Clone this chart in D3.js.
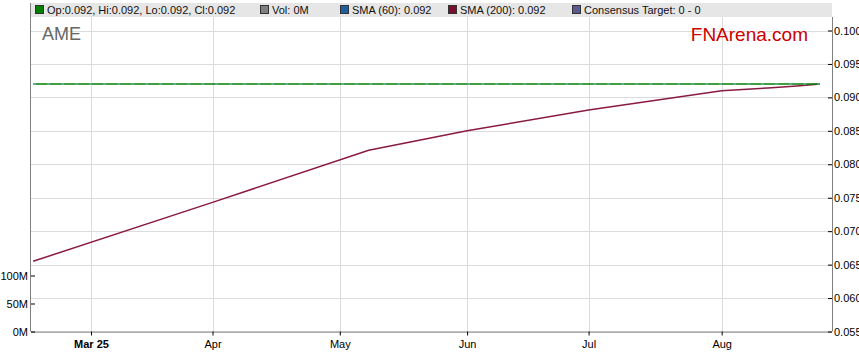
<!DOCTYPE html>
<html><head><meta charset="utf-8">
<script src="https://cdn.jsdelivr.net/npm/d3@7"></script>
<style>
body{margin:0;background:#fff;}
svg{display:block;font-family:"Liberation Sans",Arial,sans-serif;}
</style></head>
<body><svg id="c" width="859" height="363"></svg>
<script>
// ---- data ----
const ticker = "AME";
const closeDates = ["2025-02-17","2025-03-03","2025-04-01","2025-05-01","2025-06-02","2025-07-01","2025-08-01","2025-08-26"];
const closeValues = [0.092,0.092,0.092,0.092,0.092,0.092,0.092,0.092];
const sma60Values = [0.092,0.092,0.092,0.092,0.092,0.092,0.092,0.092];
const sma200Dates = ["2025-02-17","2025-04-01","2025-05-08","2025-06-02","2025-07-01","2025-08-01","2025-08-13","2025-08-20","2025-08-26"];
const sma200Values = [0.0655,0.0743,0.0821,0.0850,0.0881,0.0910,0.0914,0.0917,0.0920];
const volumeValues = [0,0,0,0,0,0,0,0];
const xTickDates = ["2025-03-03","2025-04-01","2025-05-01","2025-06-02","2025-07-01","2025-08-01"];
const xTickLabels = ["Mar 25","Apr","May","Jun","Jul","Aug"];
const priceTicks = [0.055,0.060,0.065,0.070,0.075,0.080,0.085,0.090,0.095,0.100];
const volTicks = [0,50e6,100e6];
const volTickLabels = ["0M","50M","100M"];
const legendItems = [
  {label:"Op:0.092, Hi:0.092, Lo:0.092, Cl:0.092", color:"#008000"},
  {label:"Vol: 0M", color:"#808080"},
  {label:"SMA (60): 0.092", color:"#1f5f9f"},
  {label:"SMA (200): 0.092", color:"#7a1030"},
  {label:"Consensus Target: 0 - 0", color:"#5a5a90"}
];

// ---- helpers: trading-day (weekday) index ----
const base = new Date(Date.UTC(2025,2,3)); // Monday
function wd(s){
  const d = new Date(s+"T00:00:00Z");
  const days = Math.round((d-base)/864e5);
  const w = Math.floor(days/7), r = days - w*7;
  return w*5 + Math.min(r,5);
}

const L=31, R=832, T=17, B=331.5;
const svg = d3.select("#c");
const x = d3.scaleLinear().domain([-10.37,128.07]).range([L,R]);
const y = d3.scaleLinear().domain([0.055,0.100]).range([B,30.5]);
const yv = d3.scaleLinear().domain([0,100e6]).range([B,275.5]);

// header
svg.append("rect").attr("x",L).attr("y",3).attr("width",R-L).attr("height",T-3).attr("fill","#e6e6e6");

// gridlines
svg.append("g").selectAll("line").data(priceTicks).join("line")
  .attr("x1",L).attr("x2",R).attr("y1",d=>Math.round(y(d))+0.5).attr("y2",d=>Math.round(y(d))+0.5)
  .attr("stroke","#dcdcdc").attr("stroke-width",1);
svg.append("g").selectAll("line").data(xTickDates).join("line")
  .attr("x1",d=>Math.round(x(wd(d)))+0.5).attr("x2",d=>Math.round(x(wd(d)))+0.5).attr("y1",T).attr("y2",B)
  .attr("stroke","#dcdcdc").attr("stroke-width",1);

// watermark texts
svg.append("text").attr("x",42).attr("y",40).attr("font-size",18).attr("fill","#666").text(ticker);
svg.append("text").attr("x",808).attr("y",41).attr("text-anchor","end").attr("font-size",19).attr("fill","#cc0000").text("FNArena.com");

// volume bars (all zero)
svg.append("g").selectAll("rect").data(closeDates).join("rect")
  .attr("x",d=>x(wd(d))-2).attr("width",4)
  .attr("y",(d,i)=>yv(volumeValues[i])).attr("height",(d,i)=>B-yv(volumeValues[i]))
  .attr("fill","#808080");

// lines
const line = d3.line().x(d=>x(wd(d[0]))).y(d=>y(d[1]));
svg.append("path").datum(sma200Dates.map((d,i)=>[d,sma200Values[i]]))
  .attr("d",line).attr("fill","none").attr("stroke","#8a1a40").attr("stroke-width",1.5);
svg.append("path").datum(closeDates.map((d,i)=>[d,closeValues[i]]))
  .attr("d",line).attr("fill","none").attr("stroke","#008000").attr("stroke-width",1.5);
svg.append("path").datum(closeDates.map((d,i)=>[d,sma60Values[i]]))
  .attr("d",line).attr("fill","none").attr("stroke","#7fb8e8").attr("stroke-width",1.2).attr("stroke-dasharray","3,11");

// axes
const axisCol="#808080";
const gx = svg.append("g").attr("transform",`translate(0,${B})`)
  .call(d3.axisBottom(x).tickValues(xTickDates.map(wd)).tickFormat((d,i)=>xTickLabels[i]).tickSize(4).tickSizeOuter(0));
gx.select(".domain").attr("stroke",axisCol).attr("d",`M${L},0.5H${R}`);
gx.selectAll(".tick line").attr("stroke","#000");
gx.selectAll("text").attr("font-size",11).attr("fill","#000").attr("dy","0.9em")
  .attr("font-weight",(d,i)=>i===0?"bold":"normal").attr("font-family","'Liberation Sans',Arial,sans-serif");

const gr = svg.append("g").attr("transform",`translate(${R},0)`)
  .call(d3.axisRight(y).tickValues(priceTicks).tickFormat(d3.format(".3f")).tickSizeInner(-4).tickSizeOuter(0).tickPadding(2));
gr.select(".domain").attr("stroke",axisCol).attr("d",`M0.5,${T}V${B}`);
gr.selectAll(".tick line").attr("stroke","#000");
gr.selectAll("text").attr("x",2).attr("font-size",11).attr("fill","#000").attr("font-family","'Liberation Sans',Arial,sans-serif");

const gl = svg.append("g").attr("transform",`translate(${L},0)`)
  .call(d3.axisLeft(yv).tickValues(volTicks).tickFormat((d,i)=>volTickLabels[i]).tickSizeInner(-4).tickSizeOuter(0).tickPadding(3));
gl.select(".domain").attr("stroke",axisCol).attr("d",`M-0.5,3V${B}`);
gl.selectAll(".tick line").attr("stroke","#000");
gl.selectAll("text").attr("font-size",11).attr("fill","#000").attr("font-family","'Liberation Sans',Arial,sans-serif");

// legend
const legX = [35,260,340,448,572];
const lg = svg.append("g").selectAll("g").data(legendItems).join("g")
  .attr("transform",(d,i)=>`translate(${legX[i]},5)`);
lg.append("rect").attr("x",0.5).attr("y",0.5).attr("width",8).attr("height",8)
  .attr("fill",d=>d.color).attr("stroke","#333").attr("stroke-width",1);
lg.append("text").attr("x",12).attr("y",9).attr("font-size",11).attr("fill","#111").text(d=>d.label);
</script></body></html>
